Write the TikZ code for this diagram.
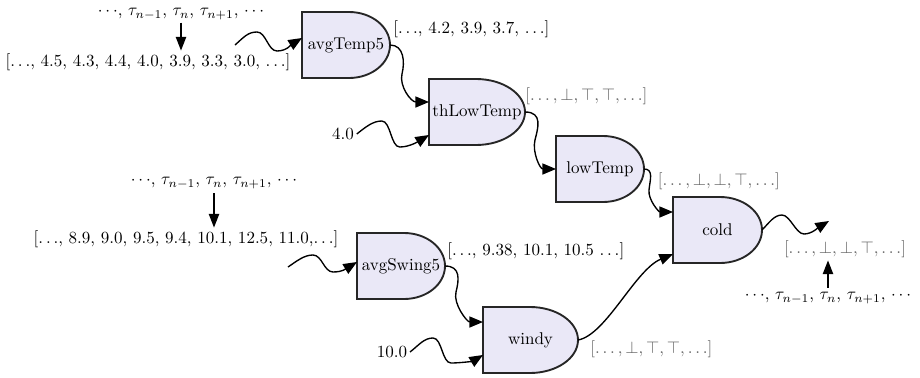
\documentclass[tikz,border=0pt]{standalone}
\usetikzlibrary{arrows.meta,calc,backgrounds}
\definecolor{gatefill}{RGB}{234,232,247}
\definecolor{lblgray}{RGB}{100,100,100}
\newcommand\pxu{0.5875pt}
\newcommand\gatenode[4]{%
  \node[gatebox,minimum width=#3*\pxu] (#1) at #2 {#4};
  \begin{scope}[on background layer]
    \filldraw[gateline] (#1.south west) -- (#1.north west) -- ++(47,0)
      .. controls +({0.5523*(#3-47)},0) and +(0,-18.2) .. (#1.east)
      .. controls +(0,18.2) and +({0.5523*(#3-47)},0) .. ($(#1.south west)+(47,0)$) -- cycle;
  \end{scope}}
\begin{document}
\begin{tikzpicture}[x=0.5875pt,y=-0.5875pt,
  gatebox/.style={draw=none,minimum height=66*\pxu,inner sep=0pt,outer sep=0pt},
  gateline/.style={draw=black!85,fill=gatefill,line width=1.1pt},
  txt/.style={inner sep=1.5pt},
  taut/.style={inner sep=0.5pt},
  boolt/.style={txt,text=lblgray},
  conn/.style={line width=0.8pt,-{Triangle[length=8pt,width=6.5pt]}},
  varrow/.style={line width=0.9pt,-{Triangle[length=8pt,width=6pt]}}]
\useasboundingbox (0,0) rectangle (920,377);

% stream texts
\node[taut] (tau1) at (181,14) {$\cdots$, $\tau_{n-1}$, $\tau_n$, $\tau_{n+1}$, $\cdots$};
\node[txt] (list1) at (148,62) {[$\ldots$, 4.5, 4.3, 4.4, 4.0, 3.9, 3.3, 3.0, $\ldots$]};
\node[taut] (tau2) at (214,183) {$\cdots$, $\tau_{n-1}$, $\tau_n$, $\tau_{n+1}$, $\cdots$};
\node[txt] (list2) at (186,239) {[$\ldots$, 8.9, 9.0, 9.5, 9.4, 10.1, 12.5, 11.0,$\ldots$]};
\node[taut] (tau3) at (828,298) {$\cdots$, $\tau_{n-1}$, $\tau_n$, $\tau_{n+1}$, $\cdots$};
\node[txt] (c4) at (343,134) {4.0};
\node[txt] (c10) at (392,352) {10.0};
\coordinate (in1) at (235,45);
\coordinate (in2) at (288,267);
\coordinate (outend) at (829,221);

% gates
\gatenode{avgTemp5}{(346,45)}{88}{avgTemp5}
\gatenode{thLowTemp}{(477,112)}{96}{thLowTemp}
\gatenode{lowTemp}{(600,169)}{88}{lowTemp}
\gatenode{cold}{(717.5,230)}{89}{cold}
\gatenode{avgSwing5}{(401,266)}{88}{avgSwing5}
\gatenode{windy}{(530.5,340)}{95}{windy}

% output labels
\node[txt,anchor=west] (oA) at (390.5,29) {[$\ldots$, 4.2, 3.9, 3.7, $\ldots$]};
\node[boolt,anchor=west] (oB) at (522.5,96) {$[\ldots,\bot,\top,\top,\ldots]$};
\node[boolt,anchor=west] (oC) at (655,181) {$[\ldots,\bot,\bot,\top,\ldots]$};
\node[txt,anchor=west] (oD) at (444.5,251) {[$\ldots$, 9.38, 10.1, 10.5 $\ldots$]};
\node[boolt,anchor=west] (oE) at (587.5,349) {$[\ldots,\bot,\top,\top,\ldots]$};
\node[boolt] (oCold) at (845,249) {$[\ldots,\bot,\bot,\top,\ldots]$};

% vertical arrows
\draw[varrow] ([yshift=-1pt]tau1.south) -- (tau1.south |- list1.north);
\draw[varrow] ([yshift=-2pt]tau2.south) -- (tau2.south |- list2.north);
\draw[varrow] ([yshift=2pt]tau3.north) -- (tau3.north |- oCold.south);

% inputs
\draw[conn] (in1) .. controls +(9,-8) and +(-9,0) .. ++(22,-13)
  .. controls +(9,0) and +(-9,0) .. ++(20,19)
  .. controls +(10,0) and +(-10,6) .. ($(avgTemp5.west)+(0,-7)$);
\draw[conn] (c4.east) .. controls +(9,-7) and +(-9,0) .. ++(25,-13)
  .. controls +(9,0) and +(-9,0) .. ++(18,26)
  .. controls +(10,0) and +(-10,6) .. ($(thLowTemp.west)+(0,23)$);
\draw[conn] (in2) .. controls +(9,-6) and +(-9,0) .. ++(25,-12)
  .. controls +(9,0) and +(-9,0) .. ++(20,17)
  .. controls +(10,0) and +(-10,6) .. ($(avgSwing5.west)+(0,-4)$);
\draw[conn] (c10.east) .. controls +(9,-7) and +(-9,0) .. ++(23,-14)
  .. controls +(9,0) and +(-9,0) .. ++(18,25)
  .. controls +(10,0) and +(-10,6) .. ($(windy.west)+(0,15)$);

% gate to gate
\draw[conn] (avgTemp5.east) .. controls +(14,0) and +(3,-12) .. ++(12,29)
  .. controls +(-3,12) and +(-18,0) .. ($(thLowTemp.west)+(0,-10)$);
\draw[conn] (thLowTemp.east) .. controls +(18,0) and +(3,-12) .. ++(10,28)
  .. controls +(-3,12) and +(-16,0) .. (lowTemp.west);
\draw[conn] (lowTemp.east) .. controls +(10,0) and +(1,-10) .. ++(5,21)
  .. controls +(-1,10) and +(-14,0) .. ($(cold.west)+(0,-18)$);
\draw[conn] (avgSwing5.east) .. controls +(16,0) and +(3,-12) .. ++(11,26)
  .. controls +(-3,12) and +(-16,0) .. ($(windy.west)+(0,-18)$);
\draw[conn] (windy.east) .. controls +(28,-5) and +(-38,16) .. ($(cold.west)+(0,24)$);
\draw[conn] (cold.east) .. controls +(7,-7) and +(-8,0) .. ++(20,-15)
  .. controls +(8,0) and +(-8,0) .. ++(22,19)
  .. controls +(8,0) and +(-10,6) .. (outend);
\end{tikzpicture}
\end{document}
